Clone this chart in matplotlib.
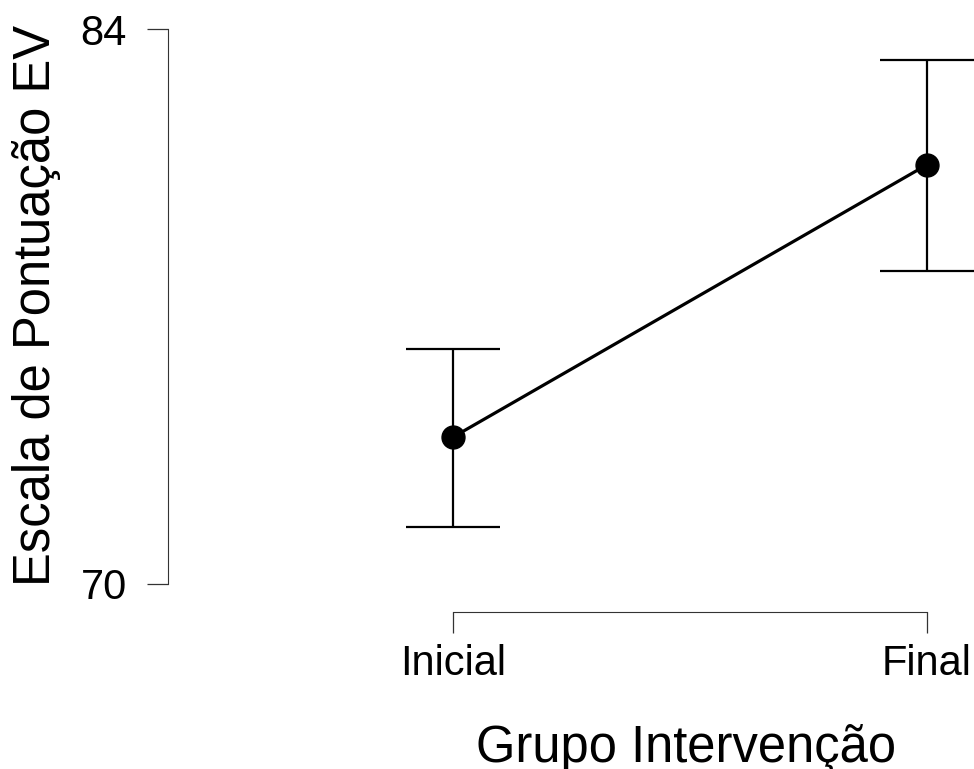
import numpy as np
import matplotlib
matplotlib.use("Agg")
import matplotlib.pyplot as plt

plt.rcParams["font.family"] = ["Liberation Sans", "DejaVu Sans"]

groups = ["Inicial", "Final"]
means = [73.70, 80.58]
ci_lower = [71.44, 77.91]
ci_upper = [75.93, 83.23]
y_ticks = [70, 84]

W, H = 974, 769
fig = plt.figure(figsize=(W / 100, H / 100), dpi=100)
ax = fig.add_axes([168 / W, 1 - 612.3 / H, 1 - 168 / W, 612.3 / H])

x = np.arange(len(groups))
m = np.array(means)
err = [m - np.array(ci_lower), np.array(ci_upper) - m]

ax.errorbar(x, m, yerr=err, fmt="none", ecolor="black", elinewidth=1.6,
            capsize=33.7, capthick=1.6, zorder=2)
ax.plot(x, m, color="black", lw=2.3, zorder=3)
ax.plot(x, m, "o", color="black", ms=16.5, zorder=4)

ax.set_xlim(-0.6006, 1.0998)
ax.set_ylim(69.28, 84.745)

for s in ["top", "right"]:
    ax.spines[s].set_visible(False)
ax.spines["left"].set_bounds(70, 84)
ax.spines["bottom"].set_bounds(0, 1)
for s in ["left", "bottom"]:
    ax.spines[s].set_linewidth(0.8)
    ax.spines[s].set_color("#333333")

ax.set_yticks(y_ticks)
ax.set_xticks(x)
ax.set_xticklabels(groups)
ax.tick_params(axis="y", length=15.1, width=0.9, pad=14.4, labelsize=30,
               color="#333333")
ax.tick_params(axis="x", length=15.1, width=0.9, pad=8, labelsize=30,
               color="#333333")

fig.text(686.5 / W, 1 - 762 / H, "Grupo Intervenção", fontsize=36.5,
         ha="center", va="baseline")
fig.text(50 / W, 1 - 305 / H, "Escala de Pontuação EV", fontsize=36.5,
         rotation=90, rotation_mode="anchor", ha="center", va="baseline")

fig.savefig("out.png", dpi=100)
